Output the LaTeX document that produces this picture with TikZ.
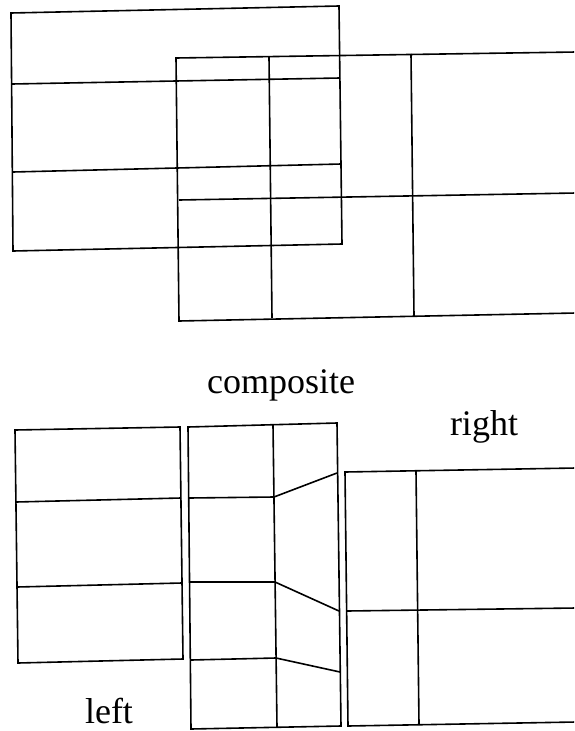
\documentclass[tikz,border=0pt]{standalone}
\usepackage{fontspec}
\setmainfont{Liberation Serif}
\usetikzlibrary{positioning}

\begin{document}
\begin{tikzpicture}[
        x=1pt, y=-1pt,
        mesh/.style={line width=1.6pt, line join=miter},
        lbl/.style={font=\fontsize{36}{40}\selectfont, inner sep=0pt, anchor=base}
      ]
      \useasboundingbox (0,0) rectangle (574,731);
      \clip (0,0) rectangle (574,731);

      % overlapped meshes
      \draw[mesh] (11,13) -- (339,6) -- (342,244) -- (13,251) -- cycle;
      \draw[mesh] (12,84) -- (340,78);
      \draw[mesh] (13,172) -- (341,164);

      \draw[mesh] (576,52) -- (176,58) -- (179,321) -- (576,313);
      \draw[mesh] (269,57) -- (272,318);
      \draw[mesh] (411,54) -- (414,316);
      \draw[mesh] (179,200) -- (576,193);

      % left mesh
      \draw[mesh] (15,430) -- (180,427) -- (183,659) -- (18,663) -- cycle;
      \draw[mesh] (16,502) -- (181,498);
      \draw[mesh] (17,587) -- (182,583);

      % composite mesh
      \draw[mesh] (188,427) -- (337,423) -- (341,726) -- (191,729) -- cycle;
      \draw[mesh] (273,425) -- (277,727);
      \draw[mesh] (189,498) -- (274,497) -- (337,473);
      \draw[mesh] (190,582) -- (275,582) -- (339,611);
      \draw[mesh] (191,660) -- (276,658) -- (340,672);

      % right mesh
      \draw[mesh] (576,468) -- (345,472) -- (348,726) -- (576,722);
      \draw[mesh] (416,471) -- (419,724);
      \draw[mesh] (347,611) -- (576,608);

      \node[lbl] (composite) at (281,393) {composite};
      \node[lbl] (right)     at (484,435) {right};
      \node[lbl] (left)      at (109,723) {left};
    \end{tikzpicture}
\end{document}
